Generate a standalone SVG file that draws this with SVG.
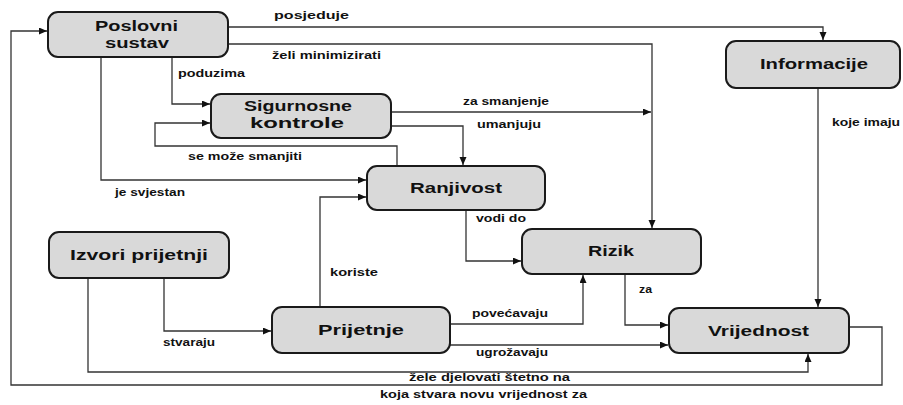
<svg xmlns="http://www.w3.org/2000/svg" width="903" height="405" viewBox="0 0 903 405">
<defs>
<marker id="arr" markerUnits="userSpaceOnUse" markerWidth="9" markerHeight="8" refX="8" refY="3.5" orient="auto">
<path d="M0,0 L8,3.5 L0,7 z" fill="#111"/>
</marker>
<style>
.box{fill:#d9d9d9;stroke:#1a1a1a;stroke-width:2}
.nt{font-family:"Liberation Sans",Arial,sans-serif;font-weight:bold;font-size:14.5px;fill:#111}
.lt{font-family:"Liberation Sans",Arial,sans-serif;font-weight:bold;font-size:10.5px;fill:#111}
.ca{fill:none;stroke:#333;stroke-width:1.3;marker-end:url(#arr)}
</style>
</defs>
<rect width="903" height="405" fill="#fff"/>
<g id="connectors">
<path class="ca" d="M849,327 H882 V385 H11 V31 H47"/>
<path class="ca" d="M228,27 H823 V40"/>
<path class="ca" d="M228,44 H652 V228"/>
<path class="ca" d="M172,57 V104 H210"/>
<path class="ca" d="M397,166 V146 H155 V123 H210"/>
<path class="ca" d="M101,57 V180 H366"/>
<path class="ca" d="M391,112 H651"/>
<path class="ca" d="M391,126 H463 V165"/>
<path class="ca" d="M466,210 V261 H521"/>
<path class="ca" d="M320,307 V197 H366"/>
<path class="ca" d="M164,278 V331 H271"/>
<path class="ca" d="M88,278 V372 H808 V354"/>
<path class="ca" d="M450,324 H583 V275"/>
<path class="ca" d="M450,345 H668"/>
<path class="ca" d="M625,274 V325 H668"/>
<path class="ca" d="M818,88 V307"/>
<g id="labels">
<text class="lt" x="274" y="19" textLength="75" lengthAdjust="spacingAndGlyphs">posjeduje</text>
<text class="lt" x="272" y="59" textLength="109" lengthAdjust="spacingAndGlyphs">želi minimizirati</text>
<text class="lt" x="178" y="77" textLength="67" lengthAdjust="spacingAndGlyphs">poduzima</text>
<text class="lt" x="188" y="160" textLength="114" lengthAdjust="spacingAndGlyphs">se može smanjiti</text>
<text class="lt" x="115" y="196" textLength="70" lengthAdjust="spacingAndGlyphs">je svjestan</text>
<text class="lt" x="463" y="105" textLength="86" lengthAdjust="spacingAndGlyphs">za smanjenje</text>
<text class="lt" x="477" y="128" textLength="64" lengthAdjust="spacingAndGlyphs">umanjuju</text>
<text class="lt" x="832" y="126" textLength="68" lengthAdjust="spacingAndGlyphs">koje imaju</text>
<text class="lt" x="476" y="222" textLength="50" lengthAdjust="spacingAndGlyphs">vodi do</text>
<text class="lt" x="330" y="276" textLength="48" lengthAdjust="spacingAndGlyphs">koriste</text>
<text class="lt" x="163" y="346" textLength="52" lengthAdjust="spacingAndGlyphs">stvaraju</text>
<text class="lt" x="472" y="317" textLength="76" lengthAdjust="spacingAndGlyphs">povećavaju</text>
<text class="lt" x="476" y="356" textLength="72" lengthAdjust="spacingAndGlyphs">ugrožavaju</text>
<text class="lt" x="639" y="293" textLength="13" lengthAdjust="spacingAndGlyphs">za</text>
<text class="lt" x="409" y="381" textLength="161" lengthAdjust="spacingAndGlyphs">žele djelovati štetno na</text>
<text class="lt" x="380" y="398" textLength="207" lengthAdjust="spacingAndGlyphs">koja stvara novu vrijednost za</text>
</g>
</g>
<g id="poslovni">
<rect class="box" x="48" y="12" width="180" height="45" rx="10"/>
<text class="nt" x="95" y="31" textLength="83" lengthAdjust="spacingAndGlyphs">Poslovni</text>
<text class="nt" x="105" y="48" textLength="64" lengthAdjust="spacingAndGlyphs">sustav</text>
</g>
<g id="sigurnosne">
<rect class="box" x="211" y="94" width="180" height="44" rx="10"/>
<text class="nt" x="244" y="111" textLength="108" lengthAdjust="spacingAndGlyphs">Sigurnosne</text>
<text class="nt" x="250" y="128" textLength="94" lengthAdjust="spacingAndGlyphs">kontrole</text>
</g>
<g id="ranjivost">
<rect class="box" x="367" y="166" width="178" height="44" rx="10"/>
<text class="nt" x="410" y="193" textLength="92" lengthAdjust="spacingAndGlyphs">Ranjivost</text>
</g>
<g id="informacije">
<rect class="box" x="726" y="41" width="174" height="47" rx="10"/>
<text class="nt" x="760" y="69" textLength="108" lengthAdjust="spacingAndGlyphs">Informacije</text>
</g>
<g id="rizik">
<rect class="box" x="522" y="229" width="179" height="45" rx="10"/>
<text class="nt" x="588" y="256" textLength="46" lengthAdjust="spacingAndGlyphs">Rizik</text>
</g>
<g id="vrijednost">
<rect class="box" x="669" y="308" width="180" height="45" rx="10"/>
<text class="nt" x="708" y="336" textLength="101" lengthAdjust="spacingAndGlyphs">Vrijednost</text>
</g>
<g id="izvori">
<rect class="box" x="49" y="232" width="180" height="46" rx="10"/>
<text class="nt" x="70" y="260" textLength="138" lengthAdjust="spacingAndGlyphs">Izvori prijetnji</text>
</g>
<g id="prijetnje">
<rect class="box" x="272" y="307" width="178" height="46" rx="10"/>
<text class="nt" x="318" y="335" textLength="86" lengthAdjust="spacingAndGlyphs">Prijetnje</text>
</g>
</svg>
